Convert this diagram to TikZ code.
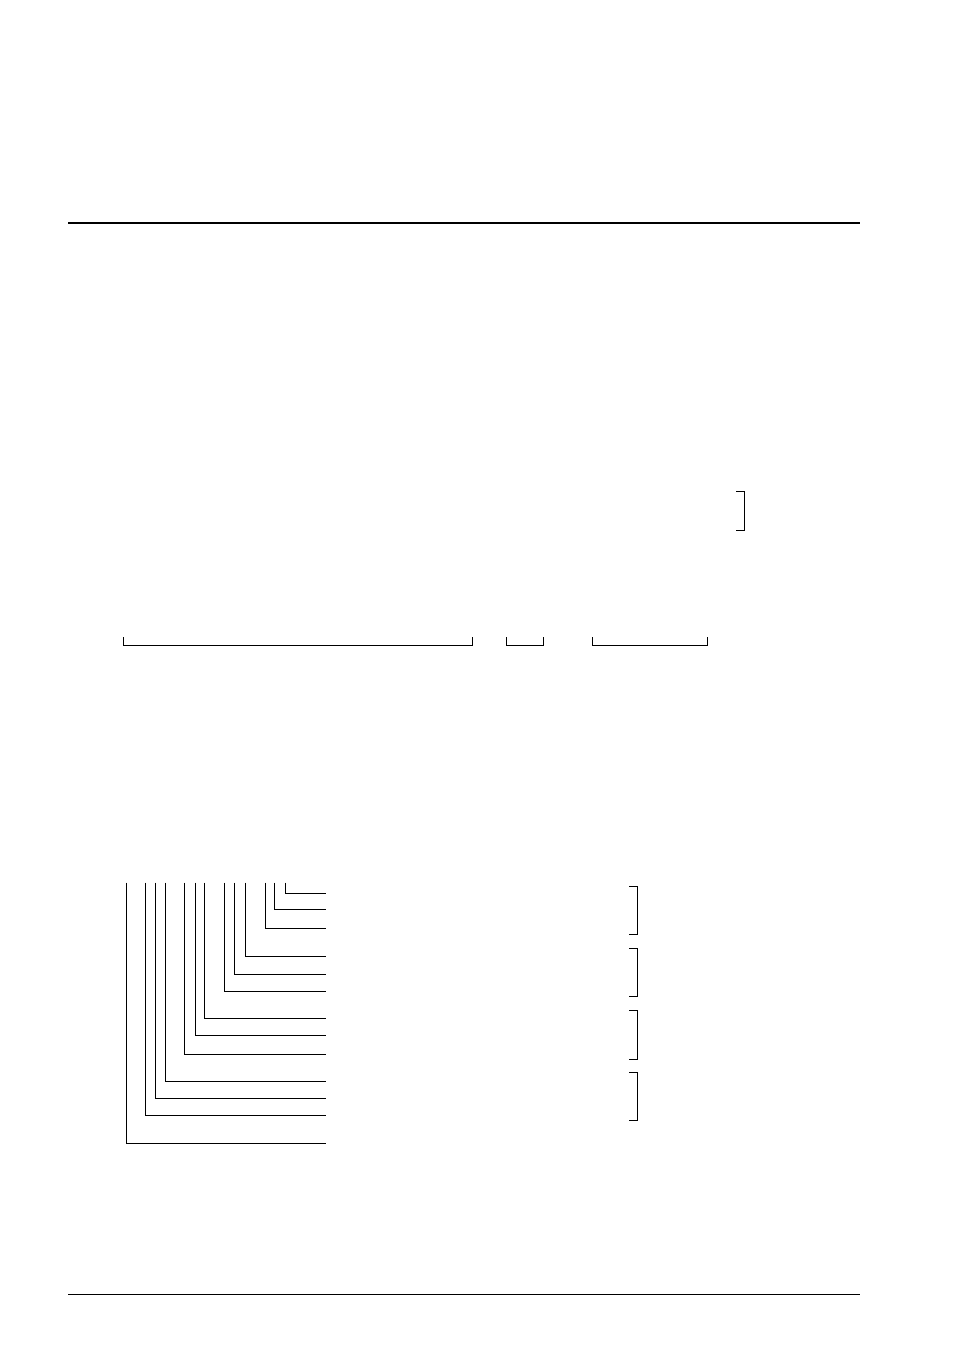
\documentclass[tikz,border=0pt]{standalone}
\begin{document}
\begin{tikzpicture}[x=1pt,y=-1pt,
  rule/.style={line width=1pt, line cap=butt, line join=miter},
  heavyrule/.style={line width=2pt},
  bracketline/.style={line width=1pt}]
\useasboundingbox[fill=white] (0,0) rectangle (954,1346);
% header and footer rules
\draw[heavyrule] (68,222.5) -- (860,222.5);
\draw[rule] (68,1294) -- (860,1294);
% right bracket upper
\draw[bracketline] (736,491.5) -- (744,491.5) -- (744,530.5) -- (736,530.5);
% bottom brackets row
\draw[bracketline] (123,637) -- (123,645) -- (472,645) -- (472,637);
\draw[bracketline] (506,637) -- (506,645) -- (543,645) -- (543,637);
\draw[bracketline] (592,637) -- (592,645) -- (707,645) -- (707,637);
% nested L lines
\foreach \xx/\yy in {285.3/893.3, 274.3/909.3, 265.3/928.3, 245.3/956.3, 234.3/974.3, 224.3/991, 204.7/1018.3, 195.7/1035, 184/1054, 165/1081, 155/1098.3, 145.3/1115.3, 126.3/1143.3}
  \draw[rule] (\xx,882.5) -- (\xx,\yy) -- (326,\yy);
% right brackets
\foreach \ya/\yb in {886/934, 948.5/996.5, 1010.5/1059, 1072/1120}
  \draw[bracketline] (629,\ya) -- (637,\ya) -- (637,\yb) -- (629,\yb);
\end{tikzpicture}
\end{document}
